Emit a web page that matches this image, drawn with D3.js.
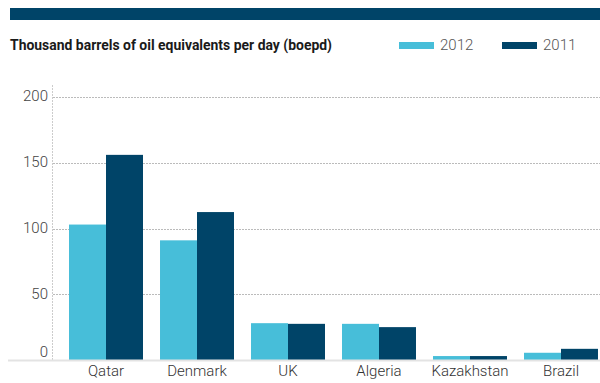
<!DOCTYPE html>
<html>
<head>
<meta charset="utf-8">
<script src="https://cdn.jsdelivr.net/npm/d3@7"></script>
<style>
  html, body { margin: 0; padding: 0; background: #fff; }
  svg { display: block; font-family: "Roboto", "Liberation Sans", sans-serif; }
</style>
</head>
<body>
<svg id="chart" width="600" height="383"></svg>
<script>
// Oil output by country, thousand boepd
const countries = ["Qatar", "Denmark", "UK", "Algeria", "Kazakhstan", "Brazil"];
const years = ["2012", "2011"];
const values2012 = [103, 91, 28, 27.5, 3, 5.5];
const values2011 = [156, 112.5, 27.5, 25, 3, 8.5];
const yTicks = [0, 50, 100, 150, 200];
const colors = { "2012": "#47bed9", "2011": "#004468" };

const seriesByYear = { "2012": values2012, "2011": values2011 };
const svg = d3.select("#chart");

// Header band
svg.append("rect")
  .attr("x", 10).attr("y", 8).attr("width", 590).attr("height", 12)
  .attr("fill", "#004468");

// Title and legend
svg.append("text")
  .attr("x", 10).attr("y", 50)
  .attr("font-size", 14.5).attr("font-weight", "bold").attr("fill", "#1a1a1a")
  .attr("textLength", 322).attr("lengthAdjust", "spacingAndGlyphs")
  .text("Thousand barrels of oil equivalents per day (boepd)");

const legendX = { "2012": 399, "2011": 502 };
years.forEach(yr => {
  svg.append("rect")
    .attr("x", legendX[yr]).attr("y", 42).attr("width", 35).attr("height", 7)
    .attr("fill", colors[yr]);
  svg.append("text")
    .attr("x", legendX[yr] + 41).attr("y", 50)
    .attr("font-size", 15).attr("font-weight", 300).attr("fill", "#555")
    .text(yr);
});

// Scales
const y = d3.scaleLinear().domain([0, 200]).range([360, 97]);
const x0 = d3.scaleBand().domain(countries).range([52, 615]).paddingInner(0.187).paddingOuter(0.187);
const x1 = d3.scaleBand().domain(years).range([0, x0.bandwidth()]);

// Gridlines
svg.append("g")
  .selectAll("line")
  .data(yTicks.filter(t => t > 0))
  .join("line")
  .attr("x1", 53).attr("x2", 600)
  .attr("y1", d => Math.round(y(d)) + 0.5).attr("y2", d => Math.round(y(d)) + 0.5)
  .attr("stroke", "#bbb").attr("stroke-dasharray", "2,1");

// Vertical axis line
svg.append("line")
  .attr("x1", 52.5).attr("x2", 52.5).attr("y1", 85).attr("y2", 360)
  .attr("stroke", "#ccc").attr("stroke-dasharray", "2,1");

// Y axis labels (the zero label sits just above the baseline)
const yAxis = d3.axisLeft(y).tickValues(yTicks).tickSize(0).tickPadding(0);
const yg = svg.append("g").attr("transform", "translate(48,0)").call(yAxis);
yg.select(".domain").remove();
yg.selectAll("text")
  .attr("font-size", 15).attr("font-weight", 300).attr("fill", "#444")
  .attr("font-family", "Roboto, sans-serif")
  .attr("dy", d => d === 0 ? "-0.25em" : "0.25em");

// Bars
const groups = svg.append("g")
  .selectAll("g")
  .data(countries)
  .join("g")
  .attr("transform", d => `translate(${x0(d)},0)`);

groups.selectAll("rect")
  .data((c, i) => years.map(yr => ({ year: yr, value: seriesByYear[yr][i] })))
  .join("rect")
  .attr("x", d => x1(d.year))
  .attr("width", x1.bandwidth())
  .attr("y", d => y(d.value))
  .attr("height", d => y(0) - y(d.value))
  .attr("fill", d => colors[d.year]);

// Baseline
svg.append("rect")
  .attr("x", 8).attr("y", 359.5).attr("width", 592).attr("height", 2)
  .attr("fill", "#e3e3e3");

// X axis labels
const xAxis = d3.axisBottom(x0).tickSize(0).tickPadding(0);
const xg = svg.append("g").attr("transform", "translate(0,362)").call(xAxis);
xg.select(".domain").remove();
xg.selectAll("text")
  .attr("font-size", 15).attr("font-weight", 300).attr("fill", "#333")
  .attr("font-family", "Roboto, sans-serif")
  .attr("dy", "0.95em");
</script>
</body>
</html>
